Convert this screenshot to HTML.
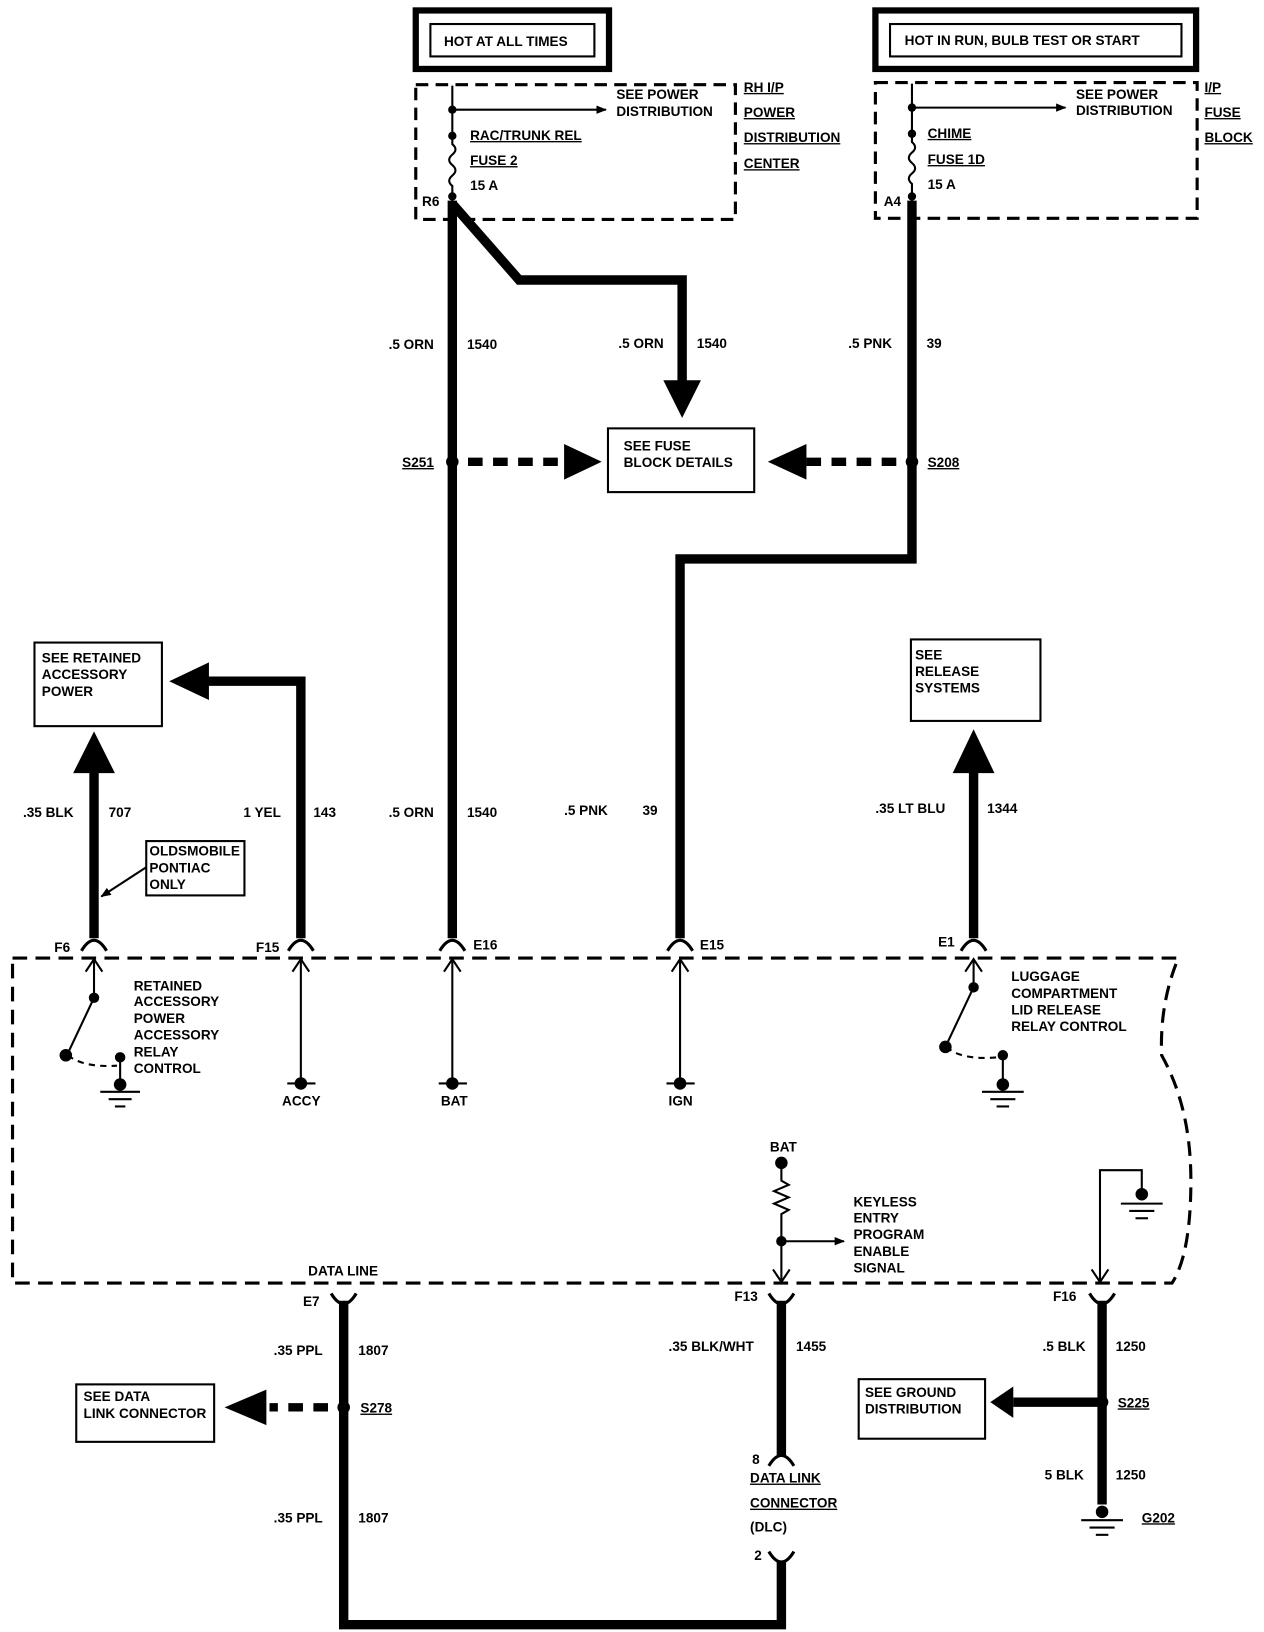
<!DOCTYPE html>
<html><head><meta charset="utf-8"><style>
html,body{margin:0;padding:0;background:#fff;}
svg{display:block;}
text{font-family:"Liberation Sans",sans-serif;font-weight:bold;font-size:13px;fill:#000;}
</style></head><body>
<svg width="1264" height="1632" viewBox="0 0 1210 1562" preserveAspectRatio="none" xmlns="http://www.w3.org/2000/svg">
<defs>
<marker id="ah" markerWidth="10" markerHeight="8" refX="9" refY="4" orient="auto" markerUnits="userSpaceOnUse"><path d="M0,0 L10,4 L0,8 z"/></marker>
</defs>
<rect width="1210" height="1562" fill="#fff"/>
<g fill="none" stroke="#000">
<rect x="398" y="10" width="185" height="56" stroke-width="6"/>
<rect x="412" y="23" width="157" height="31" stroke-width="2"/>
<rect x="838" y="10" width="307" height="56" stroke-width="6"/>
<rect x="852" y="23" width="279" height="31" stroke-width="2"/>
<rect x="398" y="81" width="306" height="129" stroke-width="3" stroke-dasharray="12,7"/>
<rect x="838" y="79" width="308" height="130" stroke-width="3" stroke-dasharray="12,7"/>
<path d="M433,82 V138 q6,5 0,10 q-6,5 0,10 q6,5 0,10 q-6,5 0,10 V196" stroke-width="2"/>
<line x1="433" y1="105" x2="580" y2="105" stroke-width="2" marker-end="url(#ah)"/>
<path d="M873,80 V136 q6,5 0,10 q-6,5 0,10 q6,5 0,10 q-6,5 0,10 V196" stroke-width="2"/>
<line x1="873" y1="103" x2="1020" y2="103" stroke-width="2" marker-end="url(#ah)"/>
<g stroke-width="9">
<line x1="433" y1="192" x2="433" y2="898"/>
<polyline points="433,195 497,268 653,268 653,370"/>
<polyline points="873,192 873,535 651,535 651,898"/>
<line x1="90" y1="735" x2="90" y2="898"/>
<polyline points="288,898 288,652 198,652"/>
<line x1="932" y1="735" x2="932" y2="898"/>
<polyline points="329,1245 329,1555 748,1555 748,1495"/>
<line x1="748" y1="1245" x2="748" y2="1393"/>
<line x1="1055" y1="1245" x2="1055" y2="1440"/>
<line x1="1055" y1="1342" x2="970" y2="1342"/>
</g>
<g stroke-width="8" stroke-dasharray="14,10">
<line x1="448" y1="442" x2="540" y2="442"/>
<line x1="858" y1="442" x2="772" y2="442"/>
<line x1="314" y1="1347" x2="258" y2="1347"/>
</g>
<g stroke-width="2">
<rect x="582" y="410" width="140" height="61"/>
<rect x="33" y="615" width="122" height="80"/>
<rect x="140" y="805" width="94" height="52"/>
<rect x="872" y="612" width="124" height="78"/>
<rect x="73" y="1325" width="132" height="55"/>
<rect x="822" y="1320" width="121" height="57"/>
</g>
<line x1="140" y1="830" x2="97" y2="858" stroke-width="2" marker-end="url(#ah)"/>
<path d="M12,917 H1128 Q1110,960 1112,1010 Q1140,1060 1140,1130 Q1140,1200 1122,1228 H12 Z" stroke-width="3" stroke-dasharray="14,8"/>
<g stroke-width="3">
<path d="M78,910 Q90,890 102,910"/>
<path d="M276,910 Q288,890 300,910"/>
<path d="M421,910 Q433,890 445,910"/>
<path d="M639,910 Q651,890 663,910"/>
<path d="M920,910 Q932,890 944,910"/>
<path d="M317,1238 Q329,1258 341,1238"/>
<path d="M736,1238 Q748,1258 760,1238"/>
<path d="M1043,1238 Q1055,1258 1067,1238"/>
<path d="M736,1403 Q748,1383 760,1403"/>
<path d="M736,1485 Q748,1505 760,1485"/>
</g>
<g stroke-width="2">
<line x1="90" y1="955" x2="90" y2="920"/><path d="M82,930 L90,918 L98,930"/>
<line x1="288" y1="1037" x2="288" y2="920"/><path d="M280,930 L288,918 L296,930"/>
<line x1="433" y1="1037" x2="433" y2="920"/><path d="M425,930 L433,918 L441,930"/>
<line x1="651" y1="1037" x2="651" y2="920"/><path d="M643,930 L651,918 L659,930"/>
<line x1="932" y1="945" x2="932" y2="920"/><path d="M924,930 L932,918 L940,930"/>
<line x1="275" y1="1037" x2="302" y2="1037"/>
<line x1="420" y1="1037" x2="447" y2="1037"/>
<line x1="638" y1="1037" x2="665" y2="1037"/>
<line x1="90" y1="955" x2="65" y2="1008"/>
<path d="M65,1010 Q80,1022 112,1020" stroke-dasharray="6,5"/>
<line x1="115" y1="1012" x2="115" y2="1045"/>
<line x1="96" y1="1045" x2="134" y2="1045"/><line x1="104" y1="1052" x2="126" y2="1052"/><line x1="110" y1="1059" x2="120" y2="1059"/>
<line x1="932" y1="945" x2="906" y2="1000"/>
<path d="M906,1002 Q920,1015 955,1012" stroke-dasharray="6,5"/>
<line x1="960" y1="1010" x2="960" y2="1045"/>
<line x1="940" y1="1045" x2="980" y2="1045"/><line x1="948" y1="1052" x2="972" y2="1052"/><line x1="954" y1="1059" x2="966" y2="1059"/>
<path d="M748,1112 V1130 l7,4 l-14,6 l14,6 l-14,6 l14,6 l-7,4 V1225"/>
<line x1="748" y1="1188" x2="808" y2="1188" marker-end="url(#ah)"/>
<path d="M740,1215 L748,1227 L756,1215"/>
<polyline points="1093,1140 1093,1120 1053,1120 1053,1225"/>
<path d="M1045,1215 L1053,1227 L1061,1215"/>
<line x1="1073" y1="1152" x2="1113" y2="1152"/><line x1="1081" y1="1159" x2="1105" y2="1159"/><line x1="1087" y1="1166" x2="1099" y2="1166"/>
<line x1="1035" y1="1455" x2="1075" y2="1455"/><line x1="1043" y1="1462" x2="1067" y2="1462"/><line x1="1049" y1="1469" x2="1061" y2="1469"/>
</g>
</g>
<g fill="#000">
<path d="M635,364 L671,364 L653,400 z"/>
<path d="M540,425 L576,442 L540,459 z"/>
<path d="M772,425 L735,442 L772,459 z"/>
<path d="M70,740 L110,740 L90,700 z"/>
<path d="M200,634 L200,670 L162,652 z"/>
<path d="M912,740 L952,740 L932,698 z"/>
<path d="M255,1330 L255,1364 L215,1347 z"/>
<path d="M970,1327 L970,1357 L948,1342 z"/>
<circle cx="433" cy="105" r="4"/><circle cx="433" cy="130" r="4"/><circle cx="433" cy="188" r="4"/>
<circle cx="873" cy="103" r="4"/><circle cx="873" cy="128" r="4"/><circle cx="873" cy="188" r="4"/>
<circle cx="433" cy="442" r="6"/><circle cx="873" cy="442" r="6"/>
<circle cx="90" cy="955" r="5"/><circle cx="63" cy="1010" r="6"/><circle cx="115" cy="1012" r="5"/><circle cx="115" cy="1038" r="6"/>
<circle cx="288" cy="1037" r="6"/><circle cx="433" cy="1037" r="6"/><circle cx="651" cy="1037" r="6"/>
<circle cx="932" cy="945" r="5"/><circle cx="905" cy="1002" r="6"/><circle cx="960" cy="1010" r="5"/><circle cx="960" cy="1038" r="6"/>
<circle cx="748" cy="1113" r="6"/><circle cx="748" cy="1188" r="5"/><circle cx="1093" cy="1143" r="6"/>
<circle cx="329" cy="1347" r="6"/><circle cx="1055" cy="1342" r="6"/><circle cx="1055" cy="1447" r="6"/>
</g>
<g>
<text x="425" y="44">HOT AT ALL TIMES</text>
<text x="866" y="43">HOT IN RUN, BULB TEST OR START</text>
<text x="590" y="95">SEE POWER</text><text x="590" y="111">DISTRIBUTION</text>
<text x="450" y="134" text-decoration="underline">RAC/TRUNK REL</text>
<text x="450" y="158" text-decoration="underline">FUSE 2</text>
<text x="450" y="182">15 A</text>
<text x="404" y="197">R6</text>
<text x="712" y="88" text-decoration="underline">RH I/P</text>
<text x="712" y="112" text-decoration="underline">POWER</text>
<text x="712" y="136" text-decoration="underline">DISTRIBUTION</text>
<text x="712" y="161" text-decoration="underline">CENTER</text>
<text x="1030" y="95">SEE POWER</text><text x="1030" y="110">DISTRIBUTION</text>
<text x="888" y="132" text-decoration="underline">CHIME</text>
<text x="888" y="157" text-decoration="underline">FUSE 1D</text>
<text x="888" y="181">15 A</text>
<text x="846" y="197">A4</text>
<text x="1153" y="88" text-decoration="underline">I/P</text>
<text x="1153" y="112" text-decoration="underline">FUSE</text>
<text x="1153" y="136" text-decoration="underline">BLOCK</text>
<text x="372" y="334">.5 ORN</text><text x="447" y="334">1540</text>
<text x="592" y="333">.5 ORN</text><text x="667" y="333">1540</text>
<text x="812" y="333">.5 PNK</text><text x="887" y="333">39</text>
<text x="385" y="447" text-decoration="underline">S251</text>
<text x="888" y="447" text-decoration="underline">S208</text>
<text x="597" y="431">SEE FUSE</text><text x="597" y="447">BLOCK DETAILS</text>
<text x="40" y="634">SEE RETAINED</text><text x="40" y="650">ACCESSORY</text><text x="40" y="666">POWER</text>
<text x="876" y="631">SEE</text><text x="876" y="647">RELEASE</text><text x="876" y="663">SYSTEMS</text>
<text x="22" y="782">.35 BLK</text><text x="104" y="782">707</text>
<text x="233" y="782">1 YEL</text><text x="300" y="782">143</text>
<text x="372" y="782">.5 ORN</text><text x="447" y="782">1540</text>
<text x="540" y="780">.5 PNK</text><text x="615" y="780">39</text>
<text x="838" y="778">.35 LT BLU</text><text x="945" y="778">1344</text>
<text x="143" y="819">OLDSMOBILE</text><text x="143" y="835">PONTIAC</text><text x="143" y="851">ONLY</text>
<text x="52" y="911">F6</text><text x="245" y="911">F15</text><text x="453" y="909">E16</text><text x="670" y="909">E15</text><text x="898" y="906">E1</text>
<text x="128" y="948">RETAINED</text><text x="128" y="963">ACCESSORY</text><text x="128" y="979">POWER</text><text x="128" y="995">ACCESSORY</text><text x="128" y="1011">RELAY</text><text x="128" y="1027">CONTROL</text>
<text x="968" y="939">LUGGAGE</text><text x="968" y="955">COMPARTMENT</text><text x="968" y="971">LID RELEASE</text><text x="968" y="987">RELAY CONTROL</text>
<text x="270" y="1058">ACCY</text><text x="422" y="1058">BAT</text><text x="640" y="1058">IGN</text>
<text x="737" y="1102">BAT</text>
<text x="817" y="1155">KEYLESS</text><text x="817" y="1170">ENTRY</text><text x="817" y="1186">PROGRAM</text><text x="817" y="1202">ENABLE</text><text x="817" y="1218">SIGNAL</text>
<text x="295" y="1221">DATA LINE</text>
<text x="290" y="1250">E7</text><text x="703" y="1245">F13</text><text x="1008" y="1245">F16</text>
<text x="262" y="1297">.35 PPL</text><text x="343" y="1297">1807</text>
<text x="640" y="1293">.35 BLK/WHT</text><text x="762" y="1293">1455</text>
<text x="998" y="1293">.5 BLK</text><text x="1068" y="1293">1250</text>
<text x="80" y="1341">SEE DATA</text><text x="80" y="1357">LINK CONNECTOR</text>
<text x="345" y="1352" text-decoration="underline">S278</text>
<text x="828" y="1337">SEE GROUND</text><text x="828" y="1353">DISTRIBUTION</text>
<text x="1070" y="1347" text-decoration="underline">S225</text>
<text x="720" y="1401">8</text>
<text x="718" y="1419" text-decoration="underline">DATA LINK</text>
<text x="718" y="1443" text-decoration="underline">CONNECTOR</text>
<text x="718" y="1466">(DLC)</text>
<text x="722" y="1493">2</text>
<text x="1000" y="1416">5 BLK</text><text x="1068" y="1416">1250</text>
<text x="262" y="1457">.35 PPL</text><text x="343" y="1457">1807</text>
<text x="1093" y="1457" text-decoration="underline">G202</text>
</g>
</svg>
</body></html>
